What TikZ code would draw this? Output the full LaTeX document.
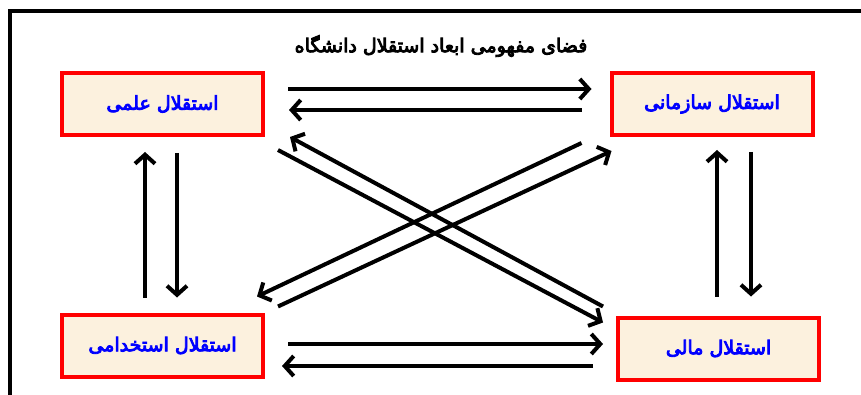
\documentclass[tikz,border=0pt]{standalone}
\usepackage{fontspec}
\usetikzlibrary{calc,arrows.meta}
\TeXXeTstate=1
\newfontfamily\arabicfont[Script=Arabic,FakeBold=4.5]{DejaVu Sans}
\definecolor{boxfill}{RGB}{252,241,222}
\tikzset{
	part/.style={draw=red, line width=4pt, fill=boxfill, outer sep=0pt,
		minimum width=201pt, minimum height=62pt, text=blue,
		font=\arabicfont\fontsize{19}{21}\selectfont},
	link/.style={line width=4pt, -{Straight Barb[length=9pt,width=20pt]}}
}

\begin{document}
\begin{tikzpicture}[x=1pt, y=1pt]
			%%%%% START %%%%%
			
			\useasboundingbox (0, 0) rectangle (861, 394);
			\draw[line width=4pt] (10, -5) -- (10, 383) -- (870, 383);
			
			\node[font=\arabicfont\fontsize{19}{21}\selectfont] (title) at (441, 348) {\beginR فضای مفهومی ابعاد استقلال دانشگاه\endR};
			
			\node[part] (elmi) at (162.5, 290) {\beginR استقلال علمی\endR};
			\node[part] (sazmani) at (712, 290) {\beginR استقلال سازمانی\endR};
			\node[part] (estekhdami) at (162.5, 48.5) {\beginR استقلال استخدامی\endR};
			\node[part] (mali) at (718.5, 45.5) {\beginR استقلال مالی\endR};
			
			\draw[link] ($(elmi.east)+(25, 15)$) -- ($(sazmani.west)+(-20, 15)$);
			\draw[link] ($(sazmani.west)+(-30, -6)$) -- ($(elmi.east)+(26, -6)$);
			
			\draw[link] ($(estekhdami.north)+(-17.5, 17)$) -- ($(elmi.south)+(-17.5, -17)$);
			\draw[link] ($(elmi.south)+(14.5, -18)$) -- ($(estekhdami.north)+(14.5, 17)$);
			
			\draw[link] ($(mali.north)+(-1.5, 21)$) -- ($(sazmani.south)+(5, -15)$);
			\draw[link] ($(sazmani.south)+(39, -17)$) -- ($(mali.north)+(32.5, 21)$);
			
			\draw[link] ($(estekhdami.east)+(25, 1.5)$) -- ($(mali.west)+(-15, 4.5)$);
			\draw[link] ($(mali.west)+(-25, -17.5)$) -- ($(estekhdami.east)+(19, -20.5)$);
			
			\draw[link] ($(elmi.south east)+(15, -15)$) -- ($(mali.north west)+(-15, -5)$);
			\draw[link] ($(mali.north west)+(-15, 11)$) -- ($(elmi.south east)+(27, -2)$);
			\draw[link] ($(sazmani.south west)+(-30, -8)$) -- ($(estekhdami.north east)+(-6, 18)$);
			\draw[link] ($(estekhdami.north east)+(15, 8)$) -- ($(sazmani.south west)+(0, -16)$);
			
			%%%%% END %%%%%
\end{tikzpicture}
\end{document}
